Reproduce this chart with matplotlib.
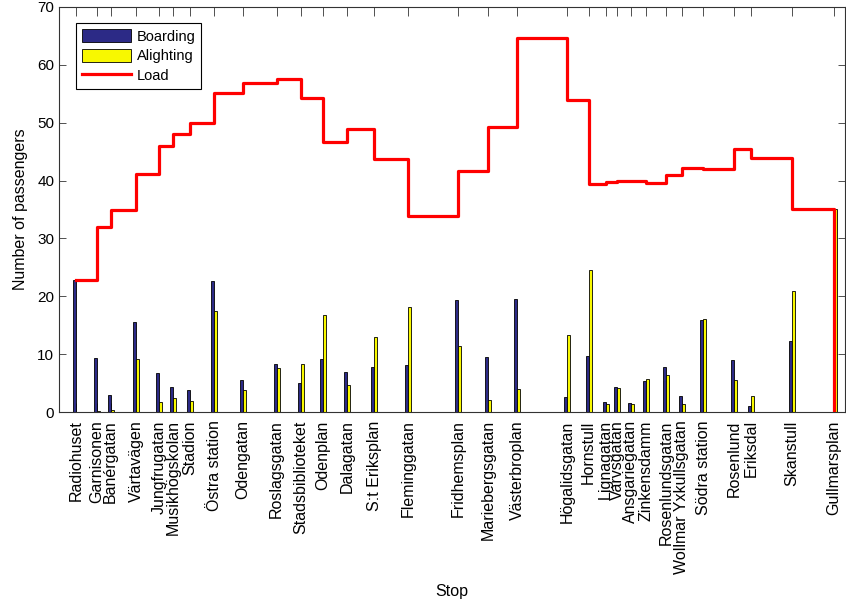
import matplotlib
matplotlib.use("Agg")
import matplotlib.pyplot as plt
import numpy as np

plt.rcParams['font.family'] = ['Liberation Sans', 'DejaVu Sans']

# stops along the route and their position (distance from first stop)
stops = ['Radiohuset', 'Garnisonen', 'Banérgatan', 'Värtavägen', 'Jungfrugatan',
         'Musikhögskolan', 'Stadion', 'Östra station', 'Odengatan', 'Roslagsgatan',
         'Stadsbiblioteket', 'Odenplan', 'Dalagatan', 'S:t Eriksplan', 'Fleminggatan',
         'Fridhemsplan', 'Mariebergsgatan', 'Västerbroplan', 'Högalidsgatan', 'Hornstull',
         'Lignagatan', 'Varvsgatan', 'Ansgariegatan', 'Zinkensdamm', 'Rosenlundsgatan',
         'Wollmar Yxkullsgatan', 'Södra station', 'Rosenlund', 'Eriksdal', 'Skanstull',
         'Gullmarsplan']
position = [0, 207, 347, 600, 830, 970, 1140, 1380, 1667, 2007,
            2247, 2467, 2713, 2983, 3323, 3823, 4123, 4413, 4910, 5127,
            5297, 5413, 5547, 5700, 5900, 6057, 6273, 6580, 6750, 7160,
            7580]
boarding = [22.75, 9.4, 2.95, 15.5, 6.8, 4.4, 3.8, 22.6, 5.6, 8.3,
            5.0, 9.15, 6.95, 7.7, 8.2, 19.4, 9.55, 19.45, 2.6, 9.7,
            1.75, 4.35, 1.5, 5.4, 7.8, 2.8, 15.9, 9.0, 1.1, 12.2,
            0.0]
alighting = [0.0, 0.2, 0.3, 9.15, 1.8, 2.4, 1.9, 17.4, 3.8, 7.6,
             8.3, 16.85, 4.6, 12.9, 18.1, 11.4, 2.15, 3.9, 13.3, 24.5,
             1.3, 4.2, 1.45, 5.75, 6.4, 1.45, 16.05, 5.5, 2.7, 20.9,
             35.1]
load = [22.75, 32.0, 34.9, 41.1, 46.0, 48.1, 49.9, 55.1, 56.8, 57.5,
        54.3, 46.7, 49.0, 43.8, 33.8, 41.7, 49.2, 64.7, 54.0, 39.4,
        39.8, 39.9, 40.0, 39.6, 40.9, 42.2, 42.0, 45.4, 43.9, 35.1,
        0.0]

x = np.array(position)
w = 30

fig = plt.figure(figsize=(8.46, 6.04), dpi=100)
ax = fig.add_axes([59/846, 1 - 412/604, 786/846, 405/604])

b1 = ax.bar(x - w/2, boarding, width=w, color='#2c2a86', edgecolor='black',
            linewidth=0.6, label='Boarding', zorder=2)
b2 = ax.bar(x + w/2, alighting, width=w, color='#f8f800', edgecolor='black',
            linewidth=0.6, label='Alighting', zorder=2)
ln, = ax.step(x, load, where='post', color='#ff0000', linewidth=2.3, label='Load', zorder=3)

ax.set_xlim(-170, 7690)
ax.set_ylim(0, 70)
ax.set_yticks(np.arange(0, 71, 10))
ax.set_xticks(x)
ax.set_xticklabels(stops, rotation=90, fontsize=11.5)
ax.tick_params(axis='y', labelsize=11, direction='in', right=True, length=5,
               width=0.6, color='#333333')
ax.tick_params(axis='x', direction='in', top=True, length=6.5, width=0.6,
               color='#333333', pad=6)
for s in ax.spines.values():
    s.set_color('#333333')
    s.set_linewidth(0.8)

ax.set_ylabel('Number of passengers', fontsize=11.5)
ax.set_xlabel('Stop', fontsize=11.5)
ax.yaxis.set_label_coords(-0.039, 0.5)
ax.xaxis.set_label_coords(0.5, -0.425)

leg = ax.legend([b1, b2, ln], ['Boarding', 'Alighting', 'Load'],
                loc='upper left', bbox_to_anchor=(0.0216, 0.96), borderaxespad=0,
                fontsize=10.5, handlelength=3.4, handleheight=1.0, labelspacing=0.35,
                fancybox=False, edgecolor='black', framealpha=1,
                handletextpad=0.35, borderpad=0.4)
leg.get_frame().set_linewidth(0.8)

fig.savefig('out.png', dpi=100)
